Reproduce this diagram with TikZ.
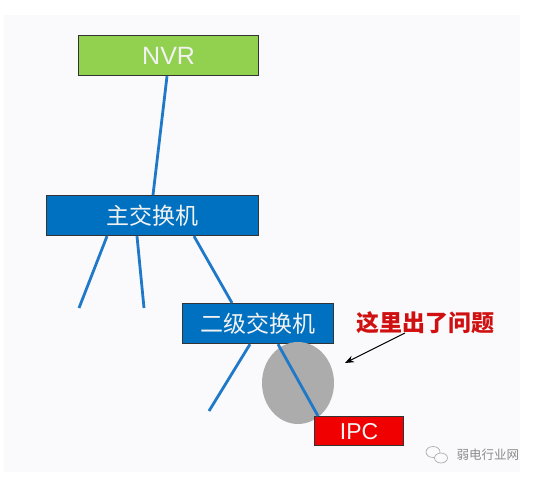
\documentclass[tikz,border=0pt]{standalone}
\usepackage{fontspec}
\setmainfont{Liberation Sans}
\newfontfamily\cjk{Noto Sans CJK SC}
\usetikzlibrary{arrows.meta,shapes.geometric}
\definecolor{nvrgreen}{HTML}{92D050}
\definecolor{swblue}{HTML}{0070C0}
\definecolor{linkblue}{HTML}{1F78C8}
\definecolor{ipcred}{HTML}{F00000}
\definecolor{labelred}{HTML}{D01010}
\definecolor{bgpale}{HTML}{FAFAFC}
\definecolor{blobgray}{HTML}{ACACAC}
\definecolor{wmgray}{HTML}{8A8A8A}
\tikzset{
  box/.style={draw=black!80, line width=1.2pt, inner sep=0pt, anchor=north west},
  boxtext/.style={text=white!95!black, font=\fontsize{23}{23}\selectfont},
  link/.style={draw=linkblue, line width=2.8pt},
}
\begin{document}
\begin{tikzpicture}[x=1pt,y=-1pt]
\useasboundingbox (0,0) rectangle (534,486);
\fill[white] (0,0) rectangle (534,486);
\fill[bgpale] (4,15) rectangle (520,472);
% nodes
\node[box, fill=nvrgreen, minimum width=180pt, minimum height=40pt] (nvr) at (78,35) {};
\node[boxtext, font=\fontsize{25}{25}\selectfont] (nvrt) at (nvr.center) {NVR};
\node[box, fill=swblue, minimum width=212pt, minimum height=40pt] (main) at (46,195) {};
\node[boxtext, font=\cjk\fontsize{23}{23}\selectfont] (maint) at (main.center) {主交换机};
\node[box, fill=swblue, minimum width=151pt, minimum height=40pt] (sec) at (182,303) {};
\node[boxtext, font=\cjk\fontsize{23}{23}\selectfont] (sect) at (sec.center) {二级交换机};
% gray blob
\node[fill=blobgray, ellipse, minimum width=72pt, minimum height=82pt, inner sep=0pt] (blob) at (298,383) {};
\node[box, fill=ipcred, minimum width=89pt, minimum height=29pt] (ipc) at (314,416) {};
\node[boxtext, font=\fontsize{23}{23}\selectfont] (ipct) at (ipc.center) {IPC};
% free ends
\coordinate (e1) at (79,308);
\coordinate (e2) at (144,308);
\coordinate (e3) at (209,411);
% links
\draw[link] (nvr.south -| 167,0) -- (main.north -| 153,0);
\draw[link] (main.south -| 107,0) -- (e1);
\draw[link] (main.south -| 137,0) -- (e2);
\draw[link] (main.south -| 194,0) -- (sec.north -| 232,0);
\draw[link] (sec.south -| 250,0) -- (e3);
\draw[link] (sec.south -| 278,0) -- (ipc.north -| 318,0);
% label
\node[text=labelred, font=\cjk\bfseries\fontsize{23}{23}\selectfont] (lab) at (425,323) {这里出了问题};
\coordinate (tip) at (345,363);
\draw[line width=1pt, -{Stealth[length=9pt,width=7pt]}] (405,333) -- (tip);
% watermark
\begin{scope}[draw=wmgray!70, line width=0.7pt]
\draw (433,452) ellipse (7pt and 5.5pt);
\draw[fill=bgpale] (441,458) ellipse (6.5pt and 5pt);
\end{scope}
\node[text=wmgray, font=\cjk\fontsize{12.5}{12.5}\selectfont, anchor=west] (wm) at (453,455) {弱电行业网};
\end{tikzpicture}
\end{document}
